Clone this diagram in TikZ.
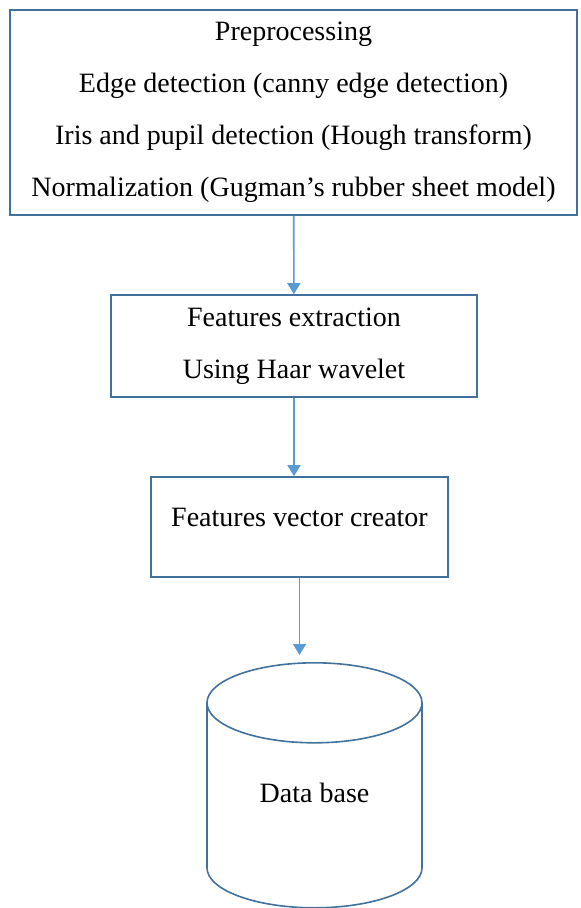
\documentclass[tikz,border=0pt]{standalone}
\usepackage{fontspec}
\setmainfont{Liberation Serif}
\usetikzlibrary{shapes.geometric,arrows.meta}
\definecolor{boxblue}{HTML}{41719C}
\definecolor{arrowblue}{HTML}{5B9BD5}

\begin{document}
\begin{tikzpicture}
  [x=0.5pt,y=-0.5pt,
   every node/.style={font=\fontsize{14}{26}\selectfont,align=center,inner sep=0pt},
   stage/.style={draw=boxblue,line width=0.8pt,rectangle},
   store/.style={draw=boxblue,line width=0.8pt,cylinder,shape border rotate=90,aspect=0.73},
   flow/.style={draw=arrowblue,line width=0.8pt,-{Triangle[length=5.5pt,width=6.5pt]}}]
  \useasboundingbox (0,0) rectangle (580,908);

  \node [stage,minimum width=283.5pt,minimum height=102.5pt] (pre) at (293.5,112.5)
    {Preprocessing\\Edge detection (canny edge detection)\\Iris and pupil detection (Hough transform)\\Normalization (Gugman’s rubber sheet model)};
  \node [stage,minimum width=183pt,minimum height=51pt] (feat) at (294,346)
    {Features extraction\\Using Haar wavelet};
  \node [stage,minimum width=148.5pt,minimum height=50pt] (vec) at (299.5,527)
    {Features vector creator\\[-16pt]\mbox{}};
  \node [store,minimum width=107.5pt,minimum height=122.5pt,anchor=north] (db) at (314.5,662)
    {Data base\\[-13pt]\mbox{}};

  \draw [flow] (pre) -- (feat);
  \draw [flow] (feat) -- (feat.south |- vec.north);
  \draw [flow,shorten >=3.5pt] (vec) -- (vec.south |- db.north);

\end{tikzpicture}
\end{document}
